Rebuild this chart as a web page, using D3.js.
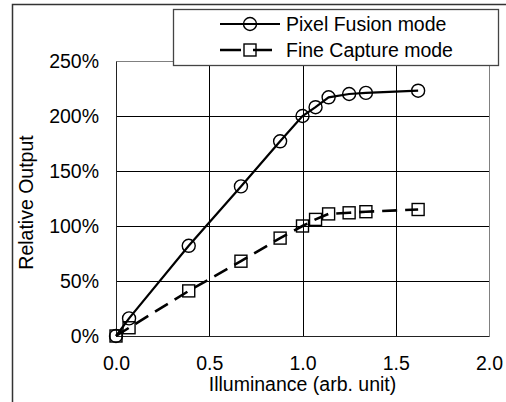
<!DOCTYPE html>
<html>
<head>
<meta charset="utf-8">
<script src="https://cdn.jsdelivr.net/npm/d3@7"></script>
<style>
  body { margin: 0; background: #fff; }
  svg { display: block; font-family: "Liberation Sans", Arial, sans-serif; }
</style>
</head>
<body>
<svg id="chart"></svg>
<script>
// values
const illuminance = [0, 0.07, 0.39, 0.67, 0.88, 1.0, 1.07, 1.14, 1.25, 1.34, 1.62];
const pixelFusion = [0, 16, 82, 136, 177, 200, 208, 217, 220, 221, 223];
const fineCapture = [0, 7.5, 41, 68, 89, 100, 106, 111, 112, 113, 115];
const seriesNames = ['Pixel Fusion mode', 'Fine Capture mode'];
const xTicks = [0, 0.5, 1.0, 1.5, 2.0];
const yTicks = [0, 50, 100, 150, 200, 250];

const width = 506, height = 402;
const margin = { top: 61, right: 17, bottom: 66, left: 116 };
const innerW = width - margin.left - margin.right;
const innerH = height - margin.top - margin.bottom;
const fontSize = 19.5;

const svg = d3.select('#chart')
    .attr('width', width)
    .attr('height', height);

// outer frame (left + top only visible)
svg.append('path')
    .attr('d', `M12.5,${height} V4.5 H${width}`)
    .attr('fill', 'none')
    .attr('stroke', '#333')
    .attr('stroke-width', 1.5);

const xScale = d3.scaleLinear().domain([0, 2]).range([0, innerW]);
const yScale = d3.scaleLinear().domain([0, 250]).range([innerH, 0]);

const chart = svg.append('g')
    .attr('transform', `translate(${margin.left},${margin.top})`);

// gridlines
chart.append('g')
    .selectAll('line')
    .data(yTicks.filter(d => d > 0 && d < 250))
    .join('line')
    .attr('x1', 0).attr('x2', innerW)
    .attr('y1', d => Math.round(yScale(d)) + 0.5)
    .attr('y2', d => Math.round(yScale(d)) + 0.5)
    .attr('stroke', '#000');

chart.append('g')
    .selectAll('line')
    .data(xTicks.filter(d => d > 0 && d < 2))
    .join('line')
    .attr('y1', 0).attr('y2', innerH)
    .attr('x1', d => Math.round(xScale(d)) + 0.5)
    .attr('x2', d => Math.round(xScale(d)) + 0.5)
    .attr('stroke', '#000');

// plot border: top/right gray, left/bottom dark
chart.append('path')
    .attr('d', `M0.5,${innerH + 0.5} V0.5 H${innerW + 0.5} V${innerH + 0.5}`)
    .attr('fill', 'none')
    .attr('stroke', '#808080');
chart.append('path')
    .attr('d', `M0.5,0.5 V${innerH + 0.5} H${innerW + 0.5}`)
    .attr('fill', 'none')
    .attr('stroke', '#222');

// axes (labels only)
const xAxis = d3.axisBottom(xScale)
    .tickValues(xTicks)
    .tickFormat(d3.format('.1f'))
    .tickSize(0)
    .tickPadding(20);
const yAxis = d3.axisLeft(yScale)
    .tickValues(yTicks)
    .tickFormat(d => d + '%')
    .tickSize(0)
    .tickPadding(17);

const xAxisG = chart.append('g')
    .attr('transform', `translate(0,${innerH})`)
    .call(xAxis);
const yAxisG = chart.append('g').call(yAxis);

[xAxisG, yAxisG].forEach(g => {
    g.select('.domain').remove();
    g.selectAll('text')
        .attr('font-size', fontSize)
        .attr('font-family', '"Liberation Sans", Arial, sans-serif')
        .attr('fill', '#000');
});

// axis titles
svg.append('text')
    .attr('x', margin.left + innerW / 2)
    .attr('y', 391)
    .attr('text-anchor', 'middle')
    .attr('font-size', fontSize)
    .text('Illuminance (arb. unit)');

svg.append('text')
    .attr('transform', `translate(33,${margin.top + innerH / 2 + 4}) rotate(-90)`)
    .attr('text-anchor', 'middle')
    .attr('font-size', fontSize)
    .text('Relative Output');

// series
const line = d3.line()
    .x(d => xScale(d[0]))
    .y(d => yScale(d[1]));

const pfData = illuminance.map((x, i) => [x, pixelFusion[i]]);
const fcData = illuminance.map((x, i) => [x, fineCapture[i]]);

chart.append('path')
    .datum(fcData)
    .attr('d', line)
    .attr('fill', 'none')
    .attr('stroke', '#000')
    .attr('stroke-width', 2.6)
    .attr('stroke-dasharray', '15,8');

chart.append('path')
    .datum(pfData)
    .attr('d', line)
    .attr('fill', 'none')
    .attr('stroke', '#000')
    .attr('stroke-width', 2.2);

chart.append('g')
    .selectAll('rect')
    .data(fcData)
    .join('rect')
    .attr('x', d => xScale(d[0]) - 6)
    .attr('y', d => yScale(d[1]) - 6)
    .attr('width', 12)
    .attr('height', 12)
    .attr('fill', 'none')
    .attr('stroke', '#000')
    .attr('stroke-width', 1.4);

chart.append('g')
    .selectAll('circle')
    .data(pfData)
    .join('circle')
    .attr('cx', d => xScale(d[0]))
    .attr('cy', d => yScale(d[1]))
    .attr('r', 6.5)
    .attr('fill', 'none')
    .attr('stroke', '#000')
    .attr('stroke-width', 1.4);

// legend
const legend = svg.append('g');
legend.append('rect')
    .attr('x', 173.5).attr('y', 9.5)
    .attr('width', 325).attr('height', 56)
    .attr('fill', '#fff')
    .attr('stroke', '#444')
    .attr('stroke-width', 1.3);

const legendRows = legend.selectAll('g.row')
    .data(seriesNames)
    .join('g')
    .attr('class', 'row')
    .attr('transform', (d, i) => `translate(0,${24 + i * 26})`);

legendRows.append('line')
    .attr('x1', 220)
    .attr('x2', (d, i) => i === 0 ? 280 : 272)
    .attr('stroke', '#000')
    .attr('stroke-width', (d, i) => i === 0 ? 2.2 : 2.6)
    .attr('stroke-dasharray', (d, i) => i === 0 ? null : '21,12');

legendRows.filter((d, i) => i === 0)
    .append('circle')
    .attr('cx', 250).attr('r', 6.5)
    .attr('fill', 'none').attr('stroke', '#000').attr('stroke-width', 1.4);

legendRows.filter((d, i) => i === 1)
    .append('rect')
    .attr('x', 244).attr('y', -6)
    .attr('width', 12).attr('height', 12)
    .attr('fill', 'none').attr('stroke', '#000').attr('stroke-width', 1.4);

legendRows.append('text')
    .attr('x', 286)
    .attr('y', 7)
    .attr('font-size', fontSize)
    .text(d => d);
</script>
</body>
</html>
